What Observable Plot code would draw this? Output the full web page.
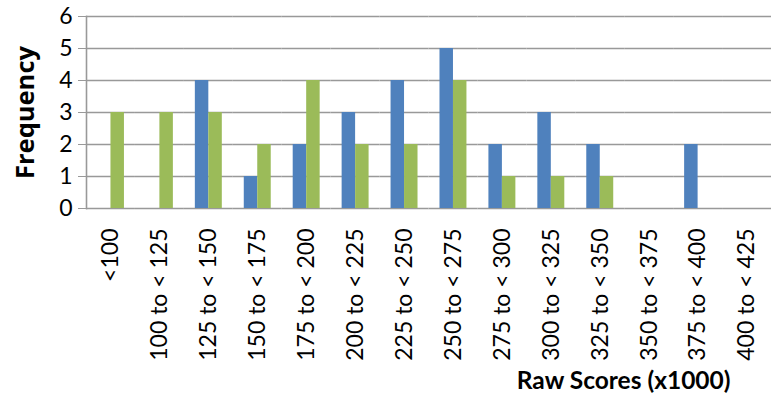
<!DOCTYPE html>
<html>
<head>
<meta charset="utf-8">
<script src="https://cdn.jsdelivr.net/npm/d3@7"></script>
<script src="https://cdn.jsdelivr.net/npm/@observablehq/plot@0.6"></script>
<style>
  html, body { margin: 0; padding: 0; background: #fff; }
  g[aria-label="y-axis label"] text { font-family: 'Open Sans', Lato, sans-serif; font-weight: bold; font-size: 25.5px; }
</style>
</head>
<body>
<div id="chart"></div>
<script>
const categories = ["<100","100 to < 125","125 to < 150","150 to < 175","175 to < 200","200 to < 225","225 to < 250","250 to < 275","275 to < 300","300 to < 325","325 to < 350","350 to < 375","375 to < 400","400 to < 425"];
const series = ["Series 1", "Series 2"];
const series1 = [0,0,4,1,2,3,4,5,2,3,2,0,2,0];
const series2 = [3,3,3,2,4,2,2,4,1,1,1,0,0,0];
const yTicks = [0,1,2,3,4,5,6];
const colors = ["#4F81BD", "#9BBB59"];
const xTitle = "Raw Scores (x1000)";
const yTitle = "Frequency";

const table = [];
categories.forEach((c, i) => {
  table.push({cat: c, series: series[0], value: series1[i]});
  table.push({cat: c, series: series[1], value: series2[i]});
});

const chart = Plot.plot({
  width: 771,
  height: 400,
  marginLeft: 86,
  marginRight: 0,
  marginTop: 16,
  marginBottom: 192,
  style: {fontFamily: "Lato, 'Open Sans', sans-serif", fontSize: "23px", color: "#000", background: "#fff"},
  fx: {domain: categories, padding: 0, round: false, label: null},
  x: {domain: series, paddingInner: 0, paddingOuter: 0.815, round: false, axis: null},
  y: {domain: [0, 6], label: null},
  color: {domain: series, range: colors},
  marks: [
    Plot.gridY(yTicks, {stroke: "#999", strokeOpacity: 1, strokeWidth: 1.6}),
    Plot.barY(table, {fx: "cat", x: "series", y: "value", fill: "series"}),
    Plot.frame({anchor: "left", facetAnchor: "left", stroke: "#999", strokeWidth: 1.6}),
    Plot.axisY(yTicks, {tickSize: 8, tickPadding: 6, stroke: "#999", fill: "#000", tickFormat: d => d, label: yTitle, labelArrow: false, labelAnchor: "center", labelOffset: 71}),
    Plot.axisFx({anchor: "bottom", tickRotate: -90, tickSize: 0, tickPadding: 20, fill: "#000", label: null}),
    Plot.text([xTitle], {text: d => d, facet: "super", frameAnchor: "bottom-right", textAnchor: "end", dx: -41, dy: 180, fontWeight: "bold", fontSize: 24.5, fill: "#000"})
  ]
});
document.getElementById("chart").appendChild(chart);
</script>
</body>
</html>
